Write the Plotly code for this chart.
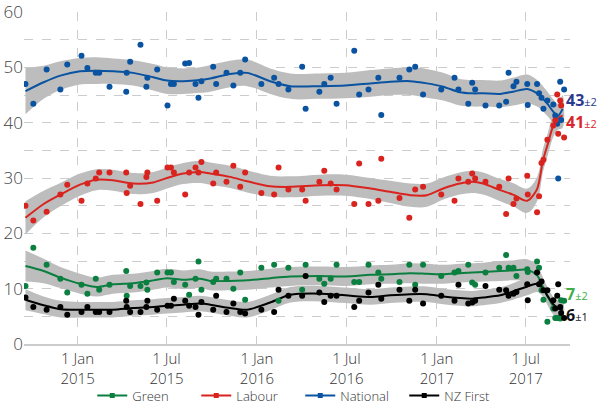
import plotly.graph_objects as go

# ---------------- data ----------------
parties = ["Green", "Labour", "National", "NZ First"]
colors = {"Green": "#0a7f3f", "Labour": "#d9231e", "National": "#0a53a0", "NZ First": "#000000"}
label_colors = {"Green": "#3fae49", "Labour": "#d9262b", "National": "#2b3990", "NZ First": "#111111"}

poll_dates = [
    "2014-09-17", "2014-10-03", "2014-10-30", "2014-11-27", "2014-12-11", "2015-01-09", "2015-01-21",
    "2015-02-07", "2015-02-14", "2015-03-07", "2015-04-10", "2015-04-11", "2015-04-18", "2015-05-09",
    "2015-05-21", "2015-05-23", "2015-06-12", "2015-07-03", "2015-07-10", "2015-07-16", "2015-08-08",
    "2015-08-16", "2015-08-29", "2015-09-04", "2015-09-10", "2015-10-04", "2015-10-10", "2015-10-31",
    "2015-11-14", "2015-11-28", "2015-12-08", "2016-01-10", "2016-02-05", "2016-02-14", "2016-03-05",
    "2016-04-02", "2016-04-09", "2016-05-07", "2016-05-17", "2016-05-30", "2016-06-11", "2016-07-17",
    "2016-07-27", "2016-08-15", "2016-09-04", "2016-09-10", "2016-10-17", "2016-11-06", "2016-11-18",
    "2016-12-04", "2017-01-10", "2017-02-06", "2017-02-14", "2017-03-06", "2017-03-14", "2017-03-20",
    "2017-04-10", "2017-05-08", "2017-05-22", "2017-05-27", "2017-06-06", "2017-06-12", "2017-07-04",
    "2017-07-05", "2017-07-24", "2017-07-28", "2017-08-02", "2017-08-06", "2017-08-14", "2017-08-26",
    "2017-08-30", "2017-09-03", "2017-09-05", "2017-09-09", "2017-09-11", "2017-09-17",
]

national_polls = [
    47.0, 43.4, 49.6, 46.0, 50.5, 52.1, 49.9, 49.0, 49.0, 46.5, 45.6, 49.0, 51.0, 54.1,
    46.5, 48.1, 49.6, 43.1, 47.0, 47.0, 50.7, 50.8, 47.0, 44.5, 47.5, 50.1, 47.0, 49.0,
    46.7, 49.0, 51.4, 47.0, 48.1, 47.0, 46.0, 50.1, 42.5, 45.6, 47.0, 48.1, 43.4, 53.0,
    45.1, 46.0, 48.1, 41.4, 48.1, 49.6, 50.1, 45.1, 46.0, 48.1, 46.0, 43.4, 47.2, 46.0,
    43.1, 43.1, 43.8, 49.0, 46.6, 47.4, 47.0, 43.2, 47.0, 45.3, 44.5, 42.5, 44.0, 43.3,
    41.3, 39.8, 29.9, 47.4, 40.5, 46.0,
]
labour_polls = [
    25.0, 22.3, 23.9, 27.0, 28.8, 25.9, 29.0, 29.9, 31.0, 31.0, 31.0, 27.3, 28.6, 25.3,
    30.2, 31.0, 25.9, 31.9, 31.9, 31.0, 27.0, 31.0, 31.9, 31.0, 32.9, 29.0, 31.0, 29.3,
    32.2, 28.4, 31.0, 27.3, 27.0, 31.9, 27.9, 27.9, 25.9, 29.3, 31.3, 29.0, 27.9, 25.3,
    32.6, 25.3, 25.9, 33.5, 26.4, 22.8, 27.9, 28.4, 27.0, 25.9, 29.9, 29.3, 30.8, 29.9,
    29.3, 28.4, 23.5, 29.9, 25.3, 26.3, 30.4, 27.0, 23.8, 26.7, 32.7, 33.3, 36.9, 39.5,
    40.4, 45.1, 38.0, 44.0, 43.1, 37.3,
]
green_polls = [
    10.5, 17.4, 14.3, 11.8, 9.3, 10.7, 9.1, 11.8, 9.8, 10.7, 13.2, 8.7, 10.5, 10.5,
    11.1, 9.8, 12.9, 12.9, 12.9, 11.2, 10.7, 8.9, 11.8, 14.9, 9.8, 11.2, 11.8, 11.8,
    10.0, 12.9, 8.0, 13.8, 14.3, 7.8, 13.8, 9.8, 14.3, 11.8, 10.9, 11.8, 14.3, 11.2,
    11.2, 14.3, 12.9, 11.8, 11.2, 14.3, 10.7, 14.3, 12.3, 12.9, 13.2, 14.3, 11.1, 10.7,
    12.9, 13.8, 16.1, 13.8, 13.8, 12.3, 13.5, 13.0, 14.9, 13.8, 9.7, 8.0, 4.0, 6.4,
    4.7, 4.7, 4.7, 4.6, 7.9, 7.8,
]
nzfirst_polls = [
    8.4, 6.7, 6.2, 6.7, 5.3, 5.8, 6.7, 5.8, 5.8, 5.8, 7.8, 6.7, 5.8, 5.8,
    6.7, 7.8, 6.2, 6.9, 6.9, 8.2, 7.8, 6.9, 6.7, 5.3, 7.6, 6.2, 8.7, 5.8,
    7.3, 5.8, 5.5, 6.2, 5.8, 9.8, 8.7, 8.7, 12.3, 9.3, 7.6, 8.7, 8.7, 6.7,
    7.8, 9.3, 10.7, 8.2, 9.8, 7.8, 9.8, 7.3, 8.7, 7.8, 10.7, 7.3, 7.5, 7.8,
    10.5, 9.8, 9.7, 8.7, 9.1, 9.4, 10.8, 7.9, 12.9, 10.8, 11.3, 9.7, 9.7, 7.9,
    6.4, 8.7, 10.8, 6.7, 5.6, 4.7,
]

trend_dates = [
    "2014-09-17", "2014-10-24", "2014-11-27", "2015-01-06", "2015-02-09", "2015-03-14", "2015-04-24",
    "2015-06-04", "2015-07-02", "2015-08-04", "2015-09-07", "2015-09-28", "2015-11-07", "2015-12-12",
    "2016-01-28", "2016-03-09", "2016-05-09", "2016-06-29", "2016-08-19", "2016-09-28", "2016-11-08",
    "2016-12-12", "2017-01-14", "2017-02-17", "2017-03-14", "2017-04-05", "2017-05-10", "2017-06-05",
    "2017-07-04", "2017-07-24", "2017-08-05", "2017-08-15", "2017-08-25", "2017-09-04", "2017-09-14",
]
national_trend = [45.7, 47.3, 48.5, 49.3, 49.4, 49.3, 49.0, 48.2, 47.6, 47.5, 47.7, 48.0, 48.8, 49.0,
                  47.5, 46.6, 46.6, 46.7, 47.1, 47.4, 47.5, 47.1, 46.5, 45.5, 45.3, 45.3, 45.2, 45.6,
                  46.1, 45.3, 44.3, 43.3, 42.1, 41.2, 42.5]
labour_trend = [22.8, 25.3, 27.0, 28.8, 29.7, 29.6, 29.0, 29.2, 30.0, 30.8, 31.1, 30.8, 30.2, 29.4,
                28.5, 28.4, 28.7, 28.7, 28.1, 27.5, 26.9, 26.9, 28.1, 29.0, 29.3, 29.0, 27.8, 27.0,
                25.9, 28.0, 33.2, 36.2, 39.2, 40.7, 41.3]
green_trend = [14.1, 13.2, 12.0, 10.9, 10.3, 10.8, 11.0, 11.5, 11.9, 11.6, 11.8, 11.4, 11.4, 11.5,
               11.9, 12.2, 12.3, 12.2, 12.5, 12.6, 12.8, 12.7, 12.6, 12.8, 12.9, 13.0, 13.2, 13.3,
               13.4, 12.4, 10.3, 8.5, 7.0, 6.4, 6.2]
nzfirst_trend = [8.0, 7.0, 6.3, 6.2, 6.2, 6.2, 6.5, 6.7, 6.9, 7.1, 7.3, 7.1, 6.5, 6.2,
                 7.5, 8.9, 9.1, 8.8, 8.5, 8.8, 9.0, 9.0, 8.6, 8.3, 8.2, 8.4, 8.8, 9.5,
                 10.4, 10.9, 10.0, 8.6, 7.3, 6.5, 6.2]

# half-width of the grey uncertainty band
national_band = [4.2, 3.0, 2.6, 2.4, 2.4, 2.3, 2.3, 2.4, 2.4, 2.3, 2.3, 2.4, 2.4, 2.4,
                 2.3, 2.3, 2.3, 2.3, 2.4, 2.4, 2.5, 2.6, 2.5, 2.4, 2.4, 2.4, 2.4, 2.5,
                 2.6, 2.4, 2.3, 2.2, 2.2, 2.2, 2.4]
labour_band = [3.0, 2.4, 2.1, 2.0, 1.9, 1.9, 1.9, 1.9, 1.9, 1.9, 2.0, 2.0, 2.0, 2.0,
               1.9, 1.9, 1.9, 1.9, 1.9, 2.0, 2.1, 2.1, 2.0, 2.0, 2.0, 2.0, 2.0, 2.1,
               2.2, 2.2, 2.1, 2.0, 2.0, 2.0, 2.2]
green_band = [2.8, 2.2, 1.9, 1.8, 1.7, 1.7, 1.7, 1.7, 1.7, 1.7, 1.7, 1.7, 1.7, 1.7,
              1.7, 1.7, 1.7, 1.7, 1.7, 1.7, 1.8, 1.8, 1.7, 1.7, 1.7, 1.7, 1.8, 1.8,
              1.9, 1.8, 1.7, 1.6, 1.6, 1.6, 1.8]
nzfirst_band = [1.9, 1.6, 1.5, 1.4, 1.4, 1.4, 1.4, 1.4, 1.4, 1.4, 1.4, 1.4, 1.4, 1.4,
                1.4, 1.4, 1.4, 1.4, 1.4, 1.4, 1.4, 1.4, 1.4, 1.4, 1.4, 1.4, 1.4, 1.5,
                1.6, 1.5, 1.4, 1.3, 1.3, 1.3, 1.5]

final_values = {"National": 43, "Labour": 41, "Green": 7, "NZ First": 6}
final_errors = {"National": 2, "Labour": 2, "Green": 2, "NZ First": 1}
label_y = {"National": 44.1, "Labour": 40.2, "Green": 9.0, "NZ First": 5.3}

tick_dates = ["2015-01-01", "2015-07-01", "2016-01-01", "2016-07-01", "2017-01-01", "2017-07-01"]
tick_text = ["1 Jan<br>2015", "1 Jul<br>2015", "1 Jan<br>2016", "1 Jul<br>2016", "1 Jan<br>2017", "1 Jul<br>2017"]

polls = {"National": national_polls, "Labour": labour_polls, "Green": green_polls, "NZ First": nzfirst_polls}
trends = {"National": national_trend, "Labour": labour_trend, "Green": green_trend, "NZ First": nzfirst_trend}
bands = {"National": national_band, "Labour": labour_band, "Green": green_band, "NZ First": nzfirst_band}

FONT = "Open Sans"
fig = go.Figure()

order = ["National", "Labour", "Green", "NZ First"]
# bands
for p in order:
    up = [t + b for t, b in zip(trends[p], bands[p])]
    lo = [t - b for t, b in zip(trends[p], bands[p])]
    fig.add_trace(go.Scatter(
        x=trend_dates + trend_dates[::-1], y=up + lo[::-1],
        fill="toself", fillcolor="#bdbdbd", line=dict(width=0, shape="spline"),
        mode="lines", hoverinfo="skip", showlegend=False))
# trend lines
for p in order:
    fig.add_trace(go.Scatter(x=trend_dates, y=trends[p], mode="lines",
                             line=dict(color=colors[p], width=2, shape="spline", smoothing=0.8),
                             showlegend=False))
# poll points
for p in order:
    fig.add_trace(go.Scatter(x=poll_dates, y=polls[p], mode="markers",
                             marker=dict(color=colors[p], size=6),
                             showlegend=False))
# legend entries
for p in parties:
    fig.add_trace(go.Scatter(x=[None], y=[None], mode="lines+markers", name=p,
                             line=dict(color=colors[p], width=2),
                             marker=dict(color=colors[p], size=5, symbol="square")))

for p in order:
    fig.add_annotation(
        x=1.0, xref="paper", xanchor="left", xshift=-6,
        y=label_y[p], yref="y", yanchor="middle", showarrow=False,
        text=f"<b>{final_values[p]}</b><span style='font-size:11px'>±{final_errors[p]}</span>",
        font=dict(family=FONT, size=16, color=label_colors[p]))

grid = dict(gridcolor="#cccccc", griddash="dash", gridwidth=1)
fig.update_layout(
    width=600, height=414,
    margin=dict(l=24, r=30, t=12, b=70, autoexpand=False),
    paper_bgcolor="white", plot_bgcolor="white",
    font=dict(family=FONT, color="#333333"),
    showlegend=True,
    legend=dict(orientation="h", x=0.125, xanchor="left", y=-0.11, yanchor="top",
                font=dict(family=FONT, size=13, color="#333333", weight=300),
                entrywidth=59, entrywidthmode="pixels", itemwidth=30,
                bgcolor="rgba(0,0,0,0)"),
    xaxis=dict(range=["2014-09-14", "2017-09-29"], tickvals=tick_dates, ticktext=tick_text,
               showgrid=True, **grid, zeroline=False, showline=True, linecolor="#cccccc",
               linewidth=2, ticks="",
               tickfont=dict(family=FONT, size=15, color="#333333", weight=300)),
    yaxis=dict(range=[0, 60], tickvals=[0, 10, 20, 30, 40, 50, 60], showgrid=True, **grid,
               zeroline=False, ticks="",
               tickfont=dict(family=FONT, size=17, color="#444444", weight=300),
               ticklabeloverflow="allow",
               minor=dict(dtick=5, showgrid=True, gridcolor="#cccccc", griddash="dash")),
)

fig.write_html("out.html", config={"displayModeBar": False},
               post_script="document.body.style.margin='0';")
